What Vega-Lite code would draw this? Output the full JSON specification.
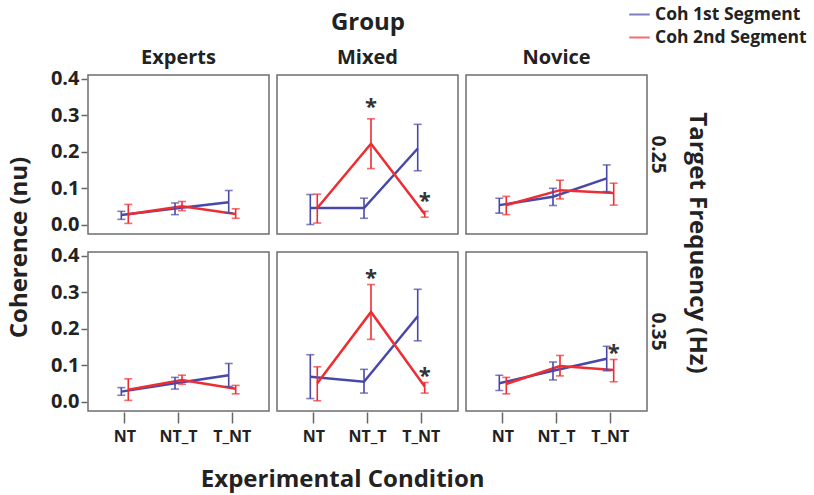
{
  "$schema": "https://vega.github.io/schema/vega-lite/v6.json",
  "padding": {"left": 8, "top": 3, "right": 4, "bottom": 4},
  "config": {
    "font": "Open Sans",
    "view": {"stroke": "#6e6e6e", "strokeWidth": 1.5},
    "axis": {"labelFontWeight": "bold", "labelFontSize": 16, "labelColor": "#222", "grid": false, "domain": false, "tickColor": "#666", "tickWidth": 1.5, "labelOverlap": false},
    "header": {"labelFontWeight": "bold", "labelFontSize": 20, "labelColor": "#222", "titleFontSize": 24, "titleFontWeight": "bold", "titleColor": "#222"},
    "legend": {"labelFontWeight": "bold", "labelFontSize": 17.5, "labelColor": "#222"},
    "title": {"fontSize": 24, "fontWeight": "bold", "color": "#222"}
  },
  "data": {"values": [
    {"Group": "Experts", "Freq": "0.25", "Condition": "NT", "Series": "Coh 1st Segment", "mean": 0.027, "lo": 0.015, "hi": 0.037},
    {"Group": "Experts", "Freq": "0.25", "Condition": "NT", "Series": "Coh 2nd Segment", "mean": 0.029, "lo": 0.004, "hi": 0.056},
    {"Group": "Experts", "Freq": "0.25", "Condition": "NT_T", "Series": "Coh 1st Segment", "mean": 0.045, "lo": 0.028, "hi": 0.06},
    {"Group": "Experts", "Freq": "0.25", "Condition": "NT_T", "Series": "Coh 2nd Segment", "mean": 0.051, "lo": 0.039, "hi": 0.064},
    {"Group": "Experts", "Freq": "0.25", "Condition": "T_NT", "Series": "Coh 1st Segment", "mean": 0.062, "lo": 0.033, "hi": 0.094},
    {"Group": "Experts", "Freq": "0.25", "Condition": "T_NT", "Series": "Coh 2nd Segment", "mean": 0.03, "lo": 0.018, "hi": 0.044},
    {"Group": "Mixed", "Freq": "0.25", "Condition": "NT", "Series": "Coh 1st Segment", "mean": 0.046, "lo": 0.001, "hi": 0.083},
    {"Group": "Mixed", "Freq": "0.25", "Condition": "NT", "Series": "Coh 2nd Segment", "mean": 0.046, "lo": 0.005, "hi": 0.084},
    {"Group": "Mixed", "Freq": "0.25", "Condition": "NT_T", "Series": "Coh 1st Segment", "mean": 0.046, "lo": 0.018, "hi": 0.073},
    {"Group": "Mixed", "Freq": "0.25", "Condition": "NT_T", "Series": "Coh 2nd Segment", "mean": 0.222, "lo": 0.154, "hi": 0.29, "star": 0.326},
    {"Group": "Mixed", "Freq": "0.25", "Condition": "T_NT", "Series": "Coh 1st Segment", "mean": 0.209, "lo": 0.148, "hi": 0.275},
    {"Group": "Mixed", "Freq": "0.25", "Condition": "T_NT", "Series": "Coh 2nd Segment", "mean": 0.03, "lo": 0.021, "hi": 0.037, "star": 0.067},
    {"Group": "Novice", "Freq": "0.25", "Condition": "NT", "Series": "Coh 1st Segment", "mean": 0.054, "lo": 0.032, "hi": 0.073},
    {"Group": "Novice", "Freq": "0.25", "Condition": "NT", "Series": "Coh 2nd Segment", "mean": 0.054, "lo": 0.028, "hi": 0.078},
    {"Group": "Novice", "Freq": "0.25", "Condition": "NT_T", "Series": "Coh 1st Segment", "mean": 0.077, "lo": 0.053, "hi": 0.1},
    {"Group": "Novice", "Freq": "0.25", "Condition": "NT_T", "Series": "Coh 2nd Segment", "mean": 0.095, "lo": 0.071, "hi": 0.122},
    {"Group": "Novice", "Freq": "0.25", "Condition": "T_NT", "Series": "Coh 1st Segment", "mean": 0.127, "lo": 0.091, "hi": 0.164},
    {"Group": "Novice", "Freq": "0.25", "Condition": "T_NT", "Series": "Coh 2nd Segment", "mean": 0.087, "lo": 0.054, "hi": 0.114},
    {"Group": "Experts", "Freq": "0.35", "Condition": "NT", "Series": "Coh 1st Segment", "mean": 0.028, "lo": 0.018, "hi": 0.039},
    {"Group": "Experts", "Freq": "0.35", "Condition": "NT", "Series": "Coh 2nd Segment", "mean": 0.033, "lo": 0.004, "hi": 0.063},
    {"Group": "Experts", "Freq": "0.35", "Condition": "NT_T", "Series": "Coh 1st Segment", "mean": 0.051, "lo": 0.035, "hi": 0.067},
    {"Group": "Experts", "Freq": "0.35", "Condition": "NT_T", "Series": "Coh 2nd Segment", "mean": 0.06, "lo": 0.048, "hi": 0.073},
    {"Group": "Experts", "Freq": "0.35", "Condition": "T_NT", "Series": "Coh 1st Segment", "mean": 0.073, "lo": 0.042, "hi": 0.105},
    {"Group": "Experts", "Freq": "0.35", "Condition": "T_NT", "Series": "Coh 2nd Segment", "mean": 0.036, "lo": 0.022, "hi": 0.045},
    {"Group": "Mixed", "Freq": "0.35", "Condition": "NT", "Series": "Coh 1st Segment", "mean": 0.069, "lo": 0.009, "hi": 0.129},
    {"Group": "Mixed", "Freq": "0.35", "Condition": "NT", "Series": "Coh 2nd Segment", "mean": 0.051, "lo": 0.003, "hi": 0.096},
    {"Group": "Mixed", "Freq": "0.35", "Condition": "NT_T", "Series": "Coh 1st Segment", "mean": 0.055, "lo": 0.024, "hi": 0.089},
    {"Group": "Mixed", "Freq": "0.35", "Condition": "NT_T", "Series": "Coh 2nd Segment", "mean": 0.246, "lo": 0.171, "hi": 0.321, "star": 0.342},
    {"Group": "Mixed", "Freq": "0.35", "Condition": "T_NT", "Series": "Coh 1st Segment", "mean": 0.234, "lo": 0.167, "hi": 0.308},
    {"Group": "Mixed", "Freq": "0.35", "Condition": "T_NT", "Series": "Coh 2nd Segment", "mean": 0.042, "lo": 0.024, "hi": 0.053, "star": 0.073},
    {"Group": "Novice", "Freq": "0.35", "Condition": "NT", "Series": "Coh 1st Segment", "mean": 0.051, "lo": 0.031, "hi": 0.073},
    {"Group": "Novice", "Freq": "0.35", "Condition": "NT", "Series": "Coh 2nd Segment", "mean": 0.049, "lo": 0.022, "hi": 0.067},
    {"Group": "Novice", "Freq": "0.35", "Condition": "NT_T", "Series": "Coh 1st Segment", "mean": 0.085, "lo": 0.06, "hi": 0.109},
    {"Group": "Novice", "Freq": "0.35", "Condition": "NT_T", "Series": "Coh 2nd Segment", "mean": 0.098, "lo": 0.071, "hi": 0.127},
    {"Group": "Novice", "Freq": "0.35", "Condition": "T_NT", "Series": "Coh 1st Segment", "mean": 0.118, "lo": 0.085, "hi": 0.152},
    {"Group": "Novice", "Freq": "0.35", "Condition": "T_NT", "Series": "Coh 2nd Segment", "mean": 0.087, "lo": 0.055, "hi": 0.116, "star": 0.136}
  ]},
  "title": {"text": "Coherence (nu)", "orient": "left", "anchor": "middle", "fontSize": 24, "offset": 18},
  "vconcat": [
    {
      "title": {"text": "Experimental Condition", "orient": "bottom", "anchor": "middle", "offset": 24, "fontSize": 24, "dx": -37},
      "facet": {
        "column": {"field": "Group", "type": "nominal", "title": "Group", "header": {"labelPadding": 6, "titlePadding": 3}},
        "row": {"field": "Freq", "type": "nominal", "title": "Target Frequency (Hz)", "header": {"labelOrient": "right", "titleOrient": "right", "labelAngle": 90, "titleAngle": 90, "labelFontSize": 19, "labelPadding": 0, "titlePadding": 8}}
      },
      "spacing": {"column": 6, "row": 16},
      "spec": {
        "width": 181,
        "height": 159,
        "encoding": {
          "x": {"field": "Condition", "type": "nominal", "title": null, "sort": ["NT", "NT_T", "T_NT"], "scale": {"type": "band", "paddingInner": 0.87, "paddingOuter": 0.62}, "axis": {"labelAngle": 0, "tickSize": 11, "labelPadding": 5, "labelFontSize": 16}},
          "xOffset": {"field": "Series", "type": "nominal", "scale": {"type": "point", "padding": 0}},
          "y": {"field": "mean", "type": "quantitative", "title": null, "scale": {"domain": [-0.025, 0.41], "nice": false, "zero": false}, "axis": {"values": [0, 0.1, 0.2, 0.3, 0.4], "format": ".1f", "tickSize": 6, "labelPadding": 2, "labelFontSize": 20, "labelOverlap": false}},
          "color": {"field": "Series", "type": "nominal", "scale": {"domain": ["Coh 1st Segment", "Coh 2nd Segment"], "range": ["#4848a8", "#ee2d33"]}, "legend": {"title": null, "orient": "none", "legendX": 540, "legendY": -72, "symbolType": "stroke", "symbolStrokeWidth": 2, "symbolSize": 420, "rowPadding": 3}}
        },
        "layer": [
          {"mark": {"type": "line", "strokeWidth": 2.5}},
          {"mark": {"type": "rule", "strokeWidth": 1.6}, "encoding": {"y": {"field": "lo", "type": "quantitative", "title": null, "axis": {"values": [0, 0.1, 0.2, 0.3, 0.4], "format": ".1f", "tickSize": 6, "labelPadding": 2, "labelFontSize": 20, "labelOverlap": false}}, "y2": {"field": "hi"}}},
          {"mark": {"type": "tick", "thickness": 1.6, "size": 8}, "encoding": {"y": {"field": "lo", "type": "quantitative", "title": null, "axis": {"values": [0, 0.1, 0.2, 0.3, 0.4], "format": ".1f", "tickSize": 6, "labelPadding": 2, "labelFontSize": 20, "labelOverlap": false}}}},
          {"mark": {"type": "tick", "thickness": 1.6, "size": 8}, "encoding": {"y": {"field": "hi", "type": "quantitative", "title": null, "axis": {"values": [0, 0.1, 0.2, 0.3, 0.4], "format": ".1f", "tickSize": 6, "labelPadding": 2, "labelFontSize": 20, "labelOverlap": false}}}},
          {"transform": [{"filter": "isValid(datum.star)"}], "mark": {"type": "text", "text": "*", "fontSize": 22, "fontWeight": "bold", "baseline": "middle", "dy": 1}, "encoding": {"y": {"field": "star", "type": "quantitative", "title": null, "axis": {"values": [0, 0.1, 0.2, 0.3, 0.4], "format": ".1f", "tickSize": 6, "labelPadding": 2, "labelFontSize": 20, "labelOverlap": false}}, "color": {"value": "#333"}}}
        ]
      }
    }
  ]
}
